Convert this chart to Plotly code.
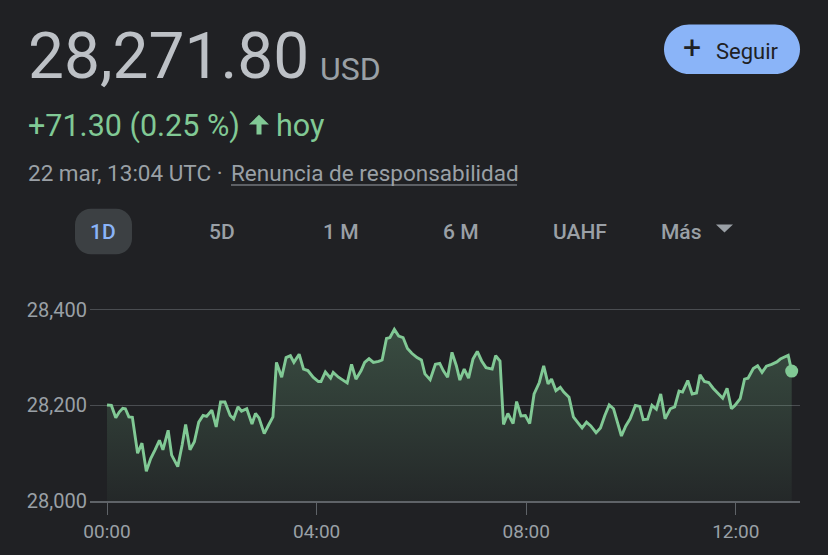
import plotly.graph_objects as go

# ---------------- data ----------------
minutes = [0, 5, 10, 14, 18, 21, 25, 29, 35, 40, 45, 50, 55, 60, 64, 70, 74, 81, 86, 90,
           95, 100, 105, 110, 114, 120, 125, 130, 135, 141, 145, 150, 154, 160, 166, 170, 174, 180, 185, 190,
           194, 200, 205, 210, 214, 220, 225, 230, 236, 242, 245, 250, 256,
           259, 265, 271, 275, 280, 285, 291, 295, 300, 305, 311, 315, 320, 324, 329, 334, 339, 344, 349, 355,
           360, 364, 370, 376, 381, 385, 390, 395, 400, 404, 409, 414, 419, 424, 429, 434, 441, 445, 450, 454,
           459, 465, 469, 474, 479, 484, 489, 495, 500, 505, 509, 514, 519,
           523, 529, 534, 540, 544, 549, 554, 560, 565, 570, 575, 580, 584, 589, 594, 599, 605, 610, 614, 619,
           624, 629, 634, 639, 645, 650, 655, 659, 665, 670, 675, 679, 684, 689, 694, 700, 705, 710, 715, 719,
           725, 730, 734, 740, 745, 750, 755, 761, 767, 771, 775, 780, 784]
prices = [28201, 28200, 28174, 28186, 28194, 28193, 28176, 28175, 28100, 28121,
          28062, 28089, 28107, 28127, 28107, 28148, 28096, 28072, 28117, 28160,
          28107, 28124, 28165, 28179, 28177, 28190, 28155, 28207, 28207, 28179,
          28172, 28197, 28188, 28193, 28161, 28183, 28174, 28141, 28159, 28176,
          28290, 28259, 28300, 28304, 28290, 28307, 28276, 28273, 28259, 28250,
          28250, 28270, 28257,
          28269, 28259, 28252, 28247, 28286, 28255, 28273, 28290, 28298, 28290,
          28292, 28295, 28340, 28342, 28359, 28345, 28342, 28319, 28309, 28300,
          28295, 28266, 28254, 28286, 28288, 28273, 28259, 28311, 28283, 28253,
          28276, 28257, 28297, 28313, 28293, 28279, 28276, 28304, 28293, 28160,
          28183, 28162, 28208, 28178, 28179, 28162, 28224, 28248, 28283, 28245,
          28255, 28231, 28238,
          28228, 28217, 28176, 28162, 28153, 28165, 28157, 28143, 28153, 28179,
          28201, 28193, 28165, 28136, 28157, 28172, 28200, 28198, 28170, 28171,
          28200, 28192, 28224, 28172, 28193, 28197, 28230, 28228, 28252, 28224,
          28226, 28264, 28250, 28248, 28236, 28224, 28215, 28236, 28193, 28200,
          28214, 28255, 28257, 28277, 28283, 28269, 28282, 28286, 28291, 28297,
          28301, 28305, 28271.8]

y_tick_values = [28000, 28200, 28400]
y_tick_labels = ["28,000", "28,200", "28,400"]
x_tick_values = [0, 240, 480, 720]
x_tick_labels = ["00:00", "04:00", "08:00", "12:00"]
range_buttons = ["1D", "5D", "1 M", "6 M", "UAHF", "Más"]

price_text = "28,271.80"
currency = "USD"
change_text = "+71.30 (0.25 %)"
today_text = "hoy"
date_text = "22 mar, 13:04 UTC ·"
disclaimer = "Renuncia de responsabilidad"
follow_text = "Seguir"

# ---------------- layout geometry ----------------
W, H = 828, 555
ML, MR, MT, MB = 90, 28, 290, 52
PW, PH = W - ML - MR, H - MT - MB
FONT = "Roboto, Arial, sans-serif"
BG = "#202124"
GREEN = "#81c995"
GREY = "#9aa0a6"


def px(x):
    return (x - ML) / PW


def py(y):
    return (H - MB - y) / PH


def rounded_path(x0, y0, x1, y1, r):
    k = 0.5523 * r
    pts = [
        ("M", [(x0 + r, y0)]),
        ("L", [(x1 - r, y0)]),
        ("C", [(x1 - r + k, y0), (x1, y0 + r - k), (x1, y0 + r)]),
        ("L", [(x1, y1 - r)]),
        ("C", [(x1, y1 - r + k), (x1 - r + k, y1), (x1 - r, y1)]),
        ("L", [(x0 + r, y1)]),
        ("C", [(x0 + r - k, y1), (x0, y1 - r + k), (x0, y1 - r)]),
        ("L", [(x0, y0 + r)]),
        ("C", [(x0, y0 + r - k), (x0 + r - k, y0), (x0 + r, y0)]),
    ]
    s = ""
    for cmd, ps in pts:
        s += cmd + " ".join(f"{px(a):.5f},{py(b):.5f}" for a, b in ps) + " "
    return s + "Z"


def poly_path(points):
    return "M" + " L".join(f"{px(a):.5f},{py(b):.5f}" for a, b in points) + " Z"


fig = go.Figure()

# baseline for fill
fig.add_trace(go.Scatter(x=[minutes[0], minutes[-1]], y=[y_tick_values[0]] * 2,
                         mode="lines", line=dict(width=0), hoverinfo="skip", showlegend=False))
fig.add_trace(go.Scatter(
    x=minutes, y=prices, mode="lines",
    line=dict(color=GREEN, width=2.9),
    fill="tonexty",
    fillgradient=dict(type="vertical", start=28000, stop=28360,
                      colorscale=[[0, "rgba(129,201,149,0.04)"], [1, "rgba(129,201,149,0.26)"]]),
    hoverinfo="skip", showlegend=False))
fig.add_trace(go.Scatter(x=[minutes[-1]], y=[prices[-1]], mode="markers",
                         marker=dict(color=GREEN, size=13), hoverinfo="skip", showlegend=False))

shapes = []
annotations = []

# Seguir button
shapes.append(dict(type="path", xref="paper", yref="paper", path=rounded_path(664, 22, 800, 72, 25),
                   fillcolor="#8ab4f8", line=dict(width=0), layer="above"))
annotations.append(dict(text="+", x=px(692), y=py(45), xanchor="center", yanchor="middle",
                        font=dict(size=32, color="#202124", family=FONT)))
annotations.append(dict(text=follow_text, x=px(714), y=py(49), xanchor="left", yanchor="middle",
                        font=dict(size=22, color="#202124", family=FONT)))

# header text
annotations.append(dict(text=price_text, x=px(26), y=py(54), xanchor="left", yanchor="middle",
                        font=dict(size=64, color="#bdc1c6", family=FONT)))
annotations.append(dict(text=currency, x=px(318), y=py(67), xanchor="left", yanchor="middle",
                        font=dict(size=32, color=GREY, family=FONT)))
annotations.append(dict(text=change_text, x=px(26), y=py(124), xanchor="left", yanchor="middle",
                        font=dict(size=30.5, color=GREEN, family=FONT)))
annotations.append(dict(text=today_text, x=px(274), y=py(124), xanchor="left", yanchor="middle",
                        font=dict(size=30.5, color=GREEN, family=FONT)))
shapes.append(dict(type="path", xref="paper", yref="paper",
                   path=poly_path([(249, 123), (259, 113), (269, 123), (261.5, 123), (261.5, 133),
                                   (256.5, 133), (256.5, 123)]),
                   fillcolor=GREEN, line=dict(width=0)))
annotations.append(dict(text=date_text, x=px(26), y=py(172), xanchor="left", yanchor="middle",
                        font=dict(size=22.5, color=GREY, family=FONT)))
annotations.append(dict(text=disclaimer, x=px(229), y=py(172), xanchor="left", yanchor="middle",
                        font=dict(size=22.5, color=GREY, family=FONT)))
shapes.append(dict(type="line", xref="paper", yref="paper", x0=px(231), x1=px(517), y0=py(184), y1=py(184),
                   line=dict(color=GREY, width=1.2)))

# range buttons
shapes.append(dict(type="path", xref="paper", yref="paper", path=rounded_path(75, 208, 132, 254, 16),
                   fillcolor="#3c4043", line=dict(width=0), layer="below"))
btn_x = [103, 222, 341, 461, 580, 681]
for lbl, bx in zip(range_buttons, btn_x):
    annotations.append(dict(text=lbl, x=px(bx), y=py(231), xanchor="center", yanchor="middle",
                            font=dict(size=21, weight=500, color="#8ab4f8" if lbl == "1D" else GREY,
                                      family=FONT)))
shapes.append(dict(type="path", xref="paper", yref="paper",
                   path=poly_path([(716, 224), (733, 224), (724.5, 232)]),
                   fillcolor=GREY, line=dict(width=0)))

for a in annotations:
    a.update(xref="paper", yref="paper", showarrow=False)

fig.update_layout(
    width=W, height=H,
    margin=dict(l=ML, r=MR, t=MT, b=MB),
    paper_bgcolor=BG, plot_bgcolor=BG,
    font=dict(family=FONT, color=GREY),
    showlegend=False,
    hovermode=False,
    shapes=shapes, annotations=annotations,
    xaxis=dict(range=[-19.5, 793.5], tickvals=x_tick_values, ticktext=x_tick_labels,
               showgrid=False, zeroline=False, showline=True, linecolor="#5f6368", linewidth=1.5,
               ticks="outside", ticklen=12, tickcolor="#5f6368", tickwidth=1,
               tickfont=dict(size=19, color=GREY, family=FONT), fixedrange=True),
    yaxis=dict(range=[28000, 28441.5], tickvals=y_tick_values, ticktext=y_tick_labels,
               showgrid=True, gridcolor="rgba(154,160,166,0.35)", gridwidth=1,
               zeroline=False, showline=False, ticks="", ticklabelstandoff=2,
               tickfont=dict(size=20, color=GREY, family=FONT), fixedrange=True),
)

fig.write_html("out.html", config={"displayModeBar": False},
               post_script="document.body.style.margin='0';document.body.style.background='#202124';")
